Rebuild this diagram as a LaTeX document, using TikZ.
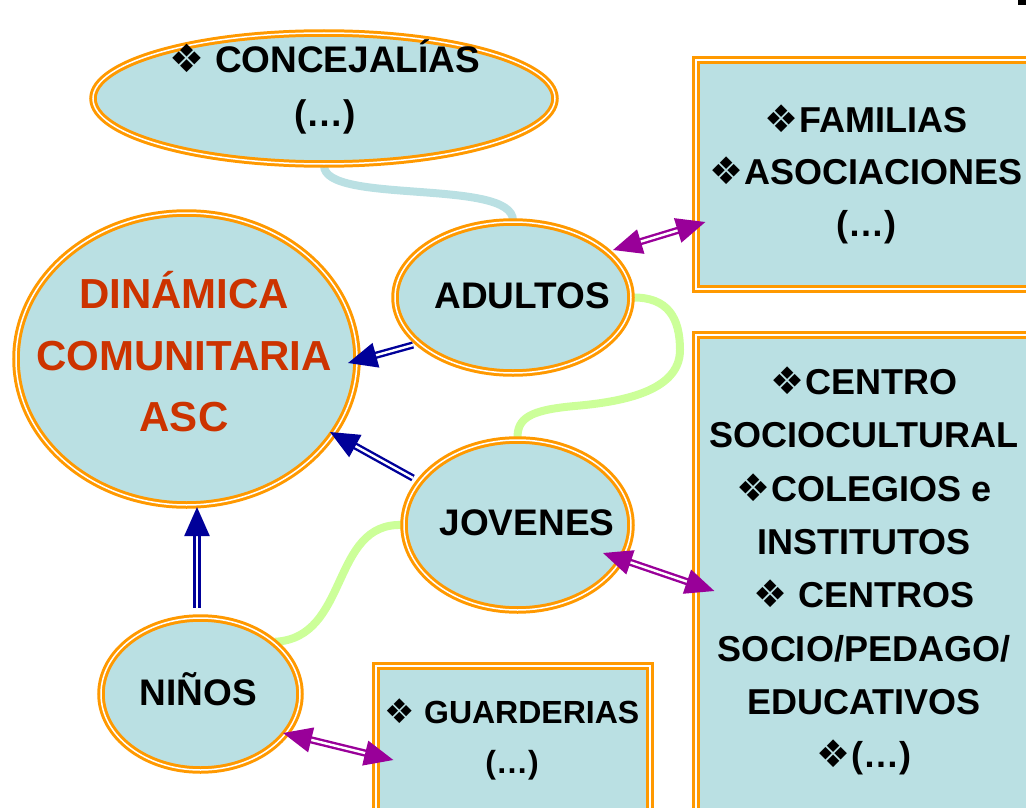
\documentclass[tikz,border=0pt]{standalone}
\usepackage{fontspec}
\setmainfont{Liberation Sans}
\newfontfamily\dingfont{DejaVu Sans}
\usetikzlibrary{shapes.geometric,arrows.meta,calc}
\definecolor{lb}{RGB}{186,224,227}
\definecolor{org}{RGB}{255,153,0}
\definecolor{rd}{RGB}{204,51,0}
\definecolor{nv}{RGB}{0,0,153}
\definecolor{pp}{RGB}{153,0,153}
\definecolor{gr}{RGB}{204,255,153}
\newcommand{\dia}[1]{{\dingfont\fontsize{#1}{#1}\selectfont ❖}}
\pgfdeclarelayer{bg}
\pgfsetlayers{bg,main}
\begin{document}
\begin{tikzpicture}[x=1pt,y=-1pt,
  ell/.style={ellipse, draw=org, double=white, line width=3pt, double distance=1.5pt, fill=lb, inner sep=0pt},
  boxn/.style={rectangle, draw=org, double=white, line width=3.2pt, double distance=2.2pt, fill=lb, inner sep=0pt},
  lbl/.style={align=center, inner sep=0pt, text=black},
  navarr/.style={draw=nv, double=white, line width=2.4pt, double distance=2.4pt, -{Triangle[length=29pt,width=25pt]}},
  pparr/.style={draw=pp, double=white, line width=2.4pt, double distance=2.4pt, {Triangle[length=29pt,width=25pt]}-{Triangle[length=29pt,width=25pt]}},
  curveb/.style={line width=8pt, draw=lb},
  curveg/.style={line width=8pt, draw=gr}]
\useasboundingbox (0,0) rectangle (1026,808);
\clip (0,0) rectangle (1026,808);

% shapes
\node[ell, minimum width=462pt, minimum height=131pt] (conc) at (324,98.5) {};
\node[ell, minimum width=341pt, minimum height=292pt] (din) at (186.5,359) {};
\node[ell, minimum width=236pt, minimum height=151pt] (adu) at (513,297.5) {};
\node[ell, minimum width=227pt, minimum height=170pt] (jov) at (517.5,525) {};
\node[ell, minimum width=199pt, minimum height=152pt] (nin) at (200.5,694) {};
\node[boxn, minimum width=344pt, minimum height=229pt] (fam) at (868,174.5) {};
\node[boxn, minimum width=340pt, minimum height=500pt] (cen) at (866,585) {};
\node[boxn, minimum width=274pt, minimum height=169pt] (gua) at (513,750.5) {};

% curved links
\begin{pgfonlayer}{bg}
\draw[curveb] (conc.south) .. controls (324,205) and (513,178) .. (adu.north);
\draw[curveg] (adu.east) .. controls (668,297) and (680,318) .. (680,350)
   .. controls (680,392) and (620,402) .. (575,406)
   .. controls (530,410) and (517,418) .. (jov.north);
\draw[curveg] (jov.west) .. controls (330,522) and (350,638) .. (nin.35);
\end{pgfonlayer}

% texts
\node[lbl, font=\bfseries\fontsize{37}{54}\selectfont] (concT) at (325,87) {\dia{39} CONCEJALÍAS\\(…)};
\node[lbl, text=rd, font=\bfseries\fontsize{42}{61.5}\selectfont] (dinT) at (184,352) {DINÁMICA\\COMUNITARIA\\ASC};
\node[lbl, anchor=base, font=\bfseries\fontsize{37}{44}\selectfont] (aduT) at (522,308) {ADULTOS};
\node[lbl, anchor=base, font=\bfseries\fontsize{37}{44}\selectfont] (jovT) at (527,535) {JOVENES};
\node[lbl, anchor=base, font=\bfseries\fontsize{37}{44}\selectfont] (ninT) at (198.5,705) {NIÑOS};
\node[lbl, font=\bfseries\fontsize{36}{52}\selectfont] (famT) at (866,174) {\dia{38}FAMILIAS\\\dia{38}ASOCIACIONES\\(…)};
\node[lbl, font=\bfseries\fontsize{36}{53.3}\selectfont] (cenT) at (864,571) {\dia{38}CENTRO\\SOCIOCULTURAL\\\dia{38}COLEGIOS e\\INSTITUTOS\\\dia{38} CENTROS\\SOCIO/PEDAGO/\\EDUCATIVOS\\\dia{38}(…)};
\node[lbl, font=\bfseries\fontsize{32}{50}\selectfont] (guaT) at (512,739) {\dia{34} GUARDERIAS\\(…)};

% arrows
\draw[navarr] ($(adu)+(-100,47.5)$) -- ($(din)+(161.5,4)$);
\draw[navarr] ($(jov)+(-104.5,-47)$) -- ($(din)+(143.5,73)$);
\draw[navarr] ($(nin)+(-3.5,-86)$) -- ($(din)+(10.5,148)$);
\draw[pparr] ($(adu)+(100,-47.5)$) -- ($(fam.west)+(11,47.5)$);
\draw[pparr] ($(jov)+(85.5,28)$) -- ($(cen.west)+(20,6)$);
\draw[pparr] ($(nin)+(82.5,39)$) -- ($(gua.west)+(19,9.5)$);

% fragment at top right
\fill[black] (1018,0) rectangle (1026,5);
\end{tikzpicture}
\end{document}
